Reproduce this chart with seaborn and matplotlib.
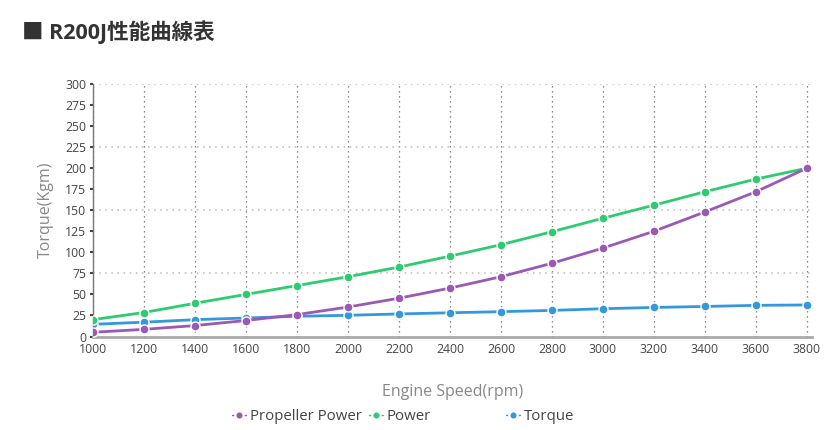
import pandas as pd
import matplotlib
matplotlib.use('Agg')
import matplotlib.pyplot as plt
from matplotlib.ticker import MultipleLocator, FixedLocator
import seaborn as sns

# Values
rpm = [1000, 1200, 1400, 1600, 1800, 2000, 2200, 2400, 2600, 2800, 3000, 3200, 3400, 3600, 3800]
propeller_power = [5, 8.5, 13, 19, 26, 35, 45.5, 57.5, 71, 87, 105, 125, 148, 172, 200]
power = [20, 28.5, 39.5, 50, 60.5, 71, 82.5, 95.5, 109, 124.5, 140.5, 156, 172, 187, 200]
torque = [14.5, 17, 20, 22, 24, 25.2, 26.8, 28.2, 29.5, 31, 33, 34.5, 35.7, 37, 37.5]

series_names = ['Propeller Power', 'Power', 'Torque']
series_colors = {'Propeller Power': '#9b59b6', 'Power': '#2ecc71', 'Torque': '#3498db'}

df = pd.DataFrame({
    'rpm': rpm * 3,
    'value': propeller_power + power + torque,
    'series': [s for s in series_names for _ in rpm],
})

sns.set_style('white')
plt.rcParams['font.family'] = ['Open Sans', 'Noto Sans CJK JP', 'DejaVu Sans']

fig = plt.figure(figsize=(8.34, 4.30), dpi=100)
ax = fig.add_axes([93 / 834, 1 - 336.5 / 430, (812 - 93) / 834, (336.5 - 84) / 430])

sns.lineplot(data=df, x='rpm', y='value', hue='series', hue_order=series_names,
             palette=series_colors, marker='o', markersize=6.5, markeredgecolor='white',
             markeredgewidth=1, linewidth=2, ax=ax, legend=True)

# purple drawn on top, as in the reference
for line, z in zip(ax.lines, [4, 3, 2.5]):
    line.set_zorder(z)

ax.set_xlim(1000, 3820)
ax.set_ylim(0, 300)
ax.xaxis.set_major_locator(MultipleLocator(200))
ax.yaxis.set_major_locator(MultipleLocator(25))
ax.yaxis.set_minor_locator(FixedLocator([75, 150, 225, 300]))
ax.yaxis.remove_overlapping_locs = False

ax.grid(axis='x', which='major', linestyle=(0, (1, 3)), color='#666666', linewidth=0.9)
ax.grid(axis='y', which='minor', linestyle=(0, (1, 3)), color='#bbbbbb', linewidth=1.1)
ax.set_axisbelow(True)

ax.tick_params(axis='y', which='major', length=2, width=1.5, color='#444444', pad=3,
               labelsize=8.8, labelcolor='#444444', left=True)
ax.tick_params(axis='y', which='minor', length=0)
ax.tick_params(axis='x', length=0, pad=5, labelsize=8.8, labelcolor='#444444')

for side in ['top', 'right']:
    ax.spines[side].set_visible(False)
ax.spines['left'].set_color('#777777')
ax.spines['left'].set_linewidth(1)
ax.spines['bottom'].set_color('#aaaaaa')
ax.spines['bottom'].set_linewidth(2)

ax.set_xlabel('Engine Speed(rpm)', fontsize=11.5, color='#888888', labelpad=20)
ax.set_ylabel('Torque(Kgm)', fontsize=11.5, color='#888888', labelpad=8)

handles, labels = ax.get_legend_handles_labels()
ax.get_legend().remove()
for h in handles:
    h.set_markersize(6)
    h.set_markeredgewidth(1.6)
    h.set_linewidth(1)

# one legend box per entry, spaced like the reference
legend_x = [232, 369, 506]
for h, lab, lx in zip(handles, labels, legend_x):
    leg = fig.legend([h], [lab], loc='center left', bbox_to_anchor=(lx / 834, 1 - 417 / 430),
                     frameon=False, fontsize=10.8, handlelength=0.95, handletextpad=0.25,
                     borderpad=0, borderaxespad=0, labelcolor='#444444')

fig.text(22 / 834, 1 - 32 / 430, '■ R200J性能曲線表', fontsize=15.5, fontweight='bold',
         color='#333333', va='center', ha='left')

fig.savefig('out.png', dpi=100)
